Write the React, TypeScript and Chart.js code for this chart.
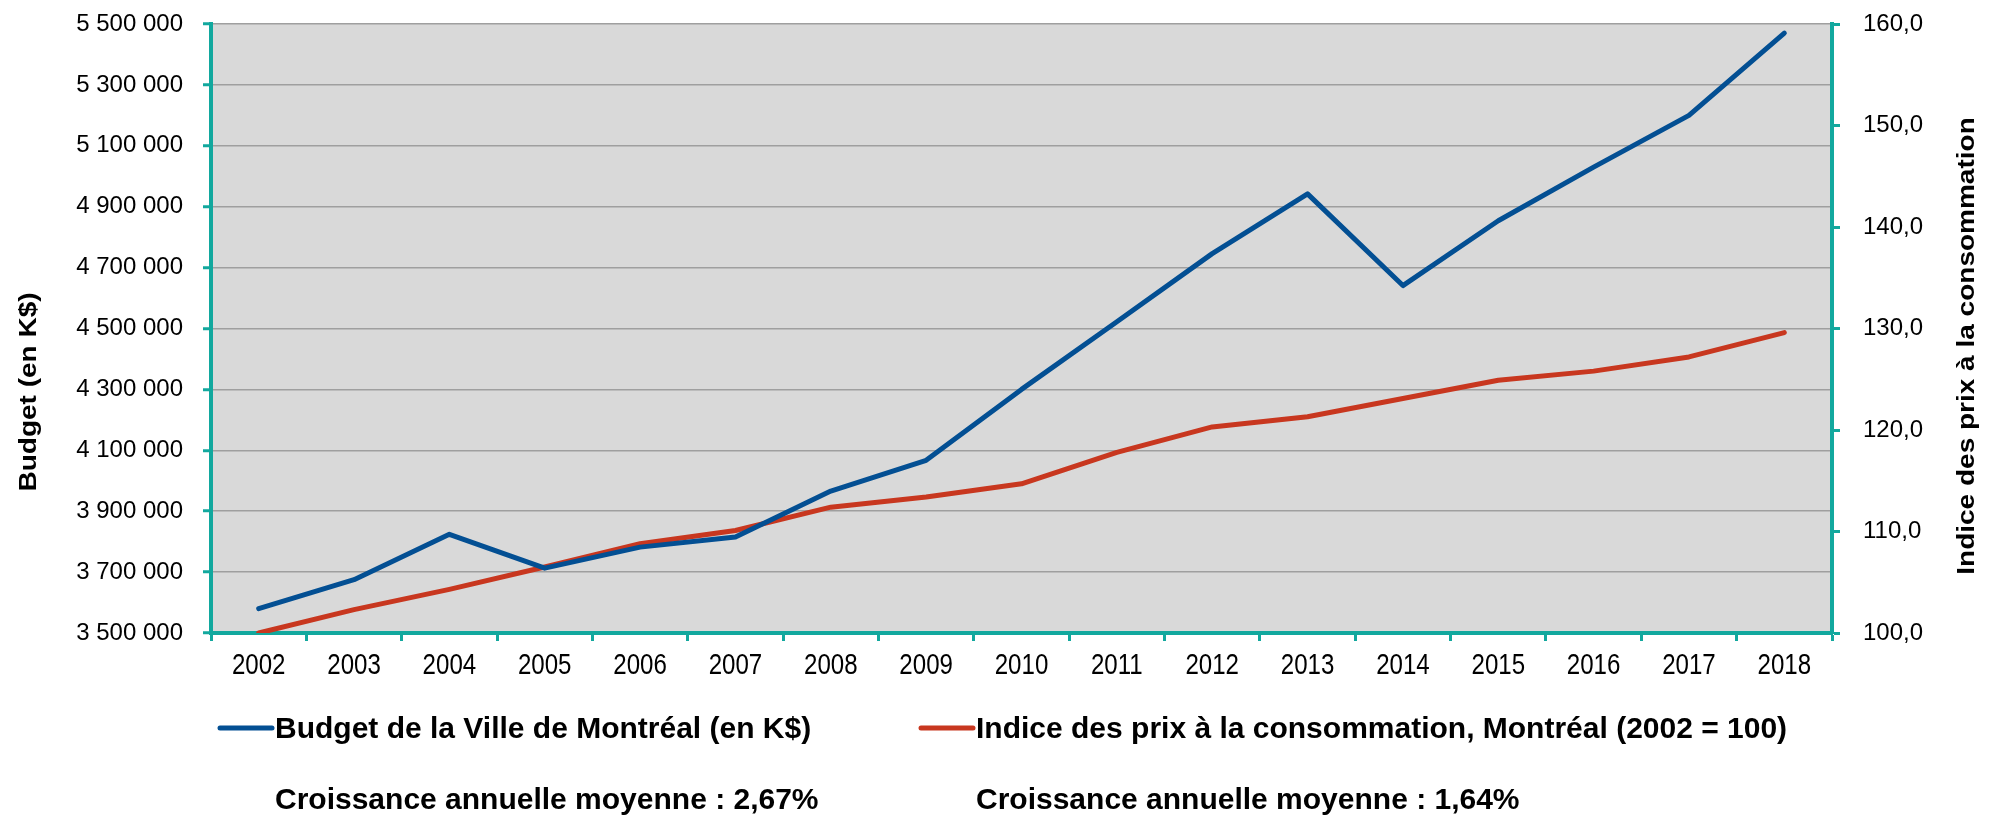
import React, { useEffect, useRef } from 'react';
import { Chart, registerables } from 'chart.js';

Chart.register(...registerables);

const YEARS = ['2002', '2003', '2004', '2005', '2006', '2007', '2008', '2009', '2010', '2011', '2012', '2013', '2014', '2015', '2016', '2017', '2018'];
const BUDGET = [3580000, 3675000, 3824000, 3713000, 3782000, 3815000, 3966000, 4067000, 4300000, 4522000, 4746000, 4942000, 4641000, 4854000, 5030000, 5200000, 5470000];
const CPI = [100.0, 102.3, 104.3, 106.5, 108.8, 110.1, 112.4, 113.4, 114.7, 117.8, 120.3, 121.3, 123.1, 124.9, 125.8, 127.2, 129.6];

const BUDGET_LABEL = 'Budget de la Ville de Montréal (en K$)';
const CPI_LABEL = 'Indice des prix à la consommation, Montréal (2002 = 100)';
const GROWTH_NOTES = ['Croissance annuelle moyenne : 2,67%', 'Croissance annuelle moyenne : 1,64%'];
const LEFT_TITLE = 'Budget (en K$)';
const RIGHT_TITLE = 'Indice des prix à la consommation';

const FONT = '"Liberation Sans", Arial, sans-serif';
const TEAL = '#12a89e';
const BLUE = '#034f93';
const RED = '#c8371f';
const GRID = '#9f9f9f';
const PLOT_BG = '#d9d9d9';

const fmtBudget = (v: number) => String(Math.round(v)).replace(/\B(?=(\d{3})+(?!\d))/g, ' ');
const fmtIndex = (v: number) => v.toFixed(1).replace('.', ',');

const decorPlugin = {
  id: 'decor',
  beforeDraw(chart: any) {
    const { ctx, chartArea: a } = chart;
    ctx.save();
    ctx.fillStyle = PLOT_BG;
    ctx.fillRect(a.left, a.top, a.right - a.left, a.bottom - a.top);
    ctx.restore();
  },
  afterDraw(chart: any) {
    const { ctx } = chart;
    const y = chart.scales.y;
    const y1 = chart.scales.y1;
    const x = chart.scales.x;
    ctx.save();
    ctx.fillStyle = '#000';

    // left tick labels
    ctx.font = `24px ${FONT}`;
    ctx.textAlign = 'right';
    ctx.textBaseline = 'middle';
    y.ticks.forEach((t: any) => {
      ctx.fillText(fmtBudget(t.value), y.right - 28, y.getPixelForValue(t.value));
    });

    // right tick labels
    ctx.textAlign = 'left';
    y1.ticks.forEach((t: any) => {
      ctx.fillText(fmtIndex(t.value), y1.left + 31, y1.getPixelForValue(t.value));
    });

    // x tick labels (condensed)
    ctx.font = `29px ${FONT}`;
    ctx.textAlign = 'center';
    ctx.textBaseline = 'alphabetic';
    x.ticks.forEach((t: any, i: number) => {
      const px = x.getPixelForTick(i);
      ctx.save();
      ctx.translate(px, x.top + 41);
      ctx.scale(0.83, 1);
      ctx.fillText(YEARS[i], 0, 0);
      ctx.restore();
    });

    // axis titles
    ctx.font = `bold 28px ${FONT}`;
    ctx.textAlign = 'center';
    ctx.textBaseline = 'middle';
    ctx.save();
    ctx.translate(29, 392);
    ctx.rotate(-Math.PI / 2);
    ctx.scale(1, 0.85);
    ctx.fillText(LEFT_TITLE, 0, 0);
    ctx.restore();
    ctx.save();
    ctx.translate(1967, 346);
    ctx.rotate(-Math.PI / 2);
    ctx.scale(1, 0.85);
    ctx.fillText(RIGHT_TITLE, 0, 0);
    ctx.restore();

    // legend + growth notes
    const starts = [220, 921];
    chart.data.datasets.forEach((ds: any, i: number) => {
      const lx = starts[i];
      ctx.save();
      ctx.strokeStyle = ds.borderColor;
      ctx.lineWidth = 5;
      ctx.lineCap = 'round';
      ctx.beginPath();
      ctx.moveTo(lx, 728);
      ctx.lineTo(lx + 52, 728);
      ctx.stroke();
      ctx.restore();
      ctx.font = `bold 30px ${FONT}`;
      ctx.textAlign = 'left';
      ctx.textBaseline = 'alphabetic';
      ctx.fillText(ds.label, lx + 55, 738);
      ctx.fillText(GROWTH_NOTES[i], lx + 55, 809);
    });
    ctx.restore();
  },
};

export default function App() {
  const ref = useRef<HTMLCanvasElement | null>(null);
  useEffect(() => {
    if (!ref.current) return;
    const chart = new Chart(ref.current, {
      type: 'line',
      data: {
        labels: YEARS,
        datasets: [
          {
            label: BUDGET_LABEL,
            data: BUDGET,
            yAxisID: 'y',
            borderColor: BLUE,
            backgroundColor: BLUE,
            borderWidth: 5,
            pointRadius: 0,
            tension: 0,
            borderJoinStyle: 'round',
            borderCapStyle: 'round',
          },
          {
            label: CPI_LABEL,
            data: CPI,
            yAxisID: 'y1',
            borderColor: RED,
            backgroundColor: RED,
            borderWidth: 5,
            pointRadius: 0,
            tension: 0,
            borderJoinStyle: 'round',
            borderCapStyle: 'round',
          },
        ],
      },
      options: {
        responsive: false,
        animation: false,
        devicePixelRatio: 1,
        layout: { autoPadding: false, padding: { left: 203, right: 152, top: 24, bottom: 175 } },
        plugins: { legend: { display: false }, tooltip: { enabled: false } },
        scales: {
          x: {
            type: 'category',
            offset: true,
            ticks: { display: false },
            grid: { display: true, offset: true, drawOnChartArea: false, tickColor: TEAL, tickLength: 8, tickWidth: 3 },
            border: { display: true, color: TEAL, width: 4 },
          },
          y: {
            position: 'left',
            min: 3500000,
            max: 5500000,
            ticks: { display: false, stepSize: 200000 },
            grid: {
              color: (c: any) => (c.tick && c.tick.value === 3500000 ? 'rgba(0,0,0,0)' : GRID),
              lineWidth: 1.5,
              tickColor: TEAL,
              tickLength: 8,
              tickWidth: 3,
            },
            border: { display: true, color: TEAL, width: 4 },
          },
          y1: {
            position: 'right',
            min: 100,
            max: 160,
            ticks: { display: false, stepSize: 10 },
            grid: { drawOnChartArea: false, tickColor: TEAL, tickLength: 8, tickWidth: 3 },
            border: { display: true, color: TEAL, width: 4 },
          },
        },
      },
      plugins: [decorPlugin],
    });
    return () => chart.destroy();
  }, []);
  return (
    <div style={{ position: 'absolute', left: 0, top: 0, width: 1992, height: 816, background: '#fff' }}>
      <canvas ref={ref} width={1992} height={816} style={{ display: 'block', width: 1992, height: 816 }} />
    </div>
  );
}
